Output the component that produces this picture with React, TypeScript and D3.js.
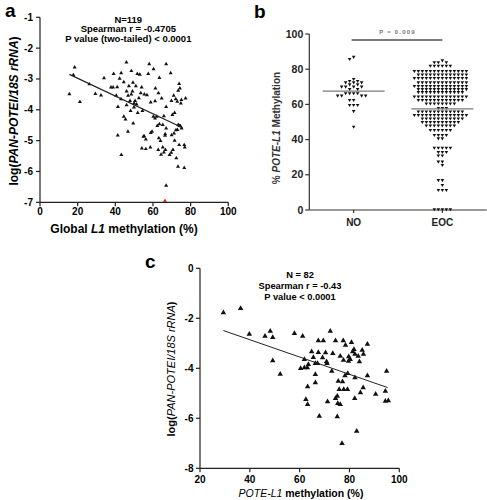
import React from 'react';
import * as d3 from 'd3';

const FONT = "'Liberation Sans', Arial, Helvetica, sans-serif";

// ---------------- Panel a ----------------
const aPoints: [number, number][] = [
  [15.6, -3.49], [18.4, -2.62], [17.7, -2.87], [21.2, -3.74], [26.2, -3.17], [29.4, -3.48],
  [32.4, -3.53], [34.0, -2.97], [45.9, -2.46], [58.0, -2.52], [67.0, -2.52], [60.3, -2.68],
  [39.1, -2.83], [43.1, -2.81], [48.5, -2.74], [51.7, -2.83], [53.0, -2.86], [57.5, -2.83],
  [63.4, -2.96], [69.4, -2.81], [42.3, -2.99], [44.5, -3.10], [49.4, -3.12], [47.2, -3.23],
  [50.9, -3.23], [41.0, -3.26], [37.7, -3.27], [38.8, -3.27], [46.0, -3.40], [49.1, -3.40],
  [54.0, -3.27], [61.3, -3.30], [62.9, -3.46], [55.4, -3.50], [56.8, -3.52], [53.5, -3.46],
  [48.5, -3.50], [73.9, -3.16], [74.3, -3.30], [73.4, -3.38], [71.0, -3.54], [72.1, -3.65],
  [75.1, -3.68], [77.3, -3.63], [69.8, -3.71], [72.9, -3.73], [74.8, -3.79], [50.5, -3.71],
  [50.0, -3.79], [51.3, -3.82], [47.8, -3.71], [46.8, -3.54], [41.4, -3.90], [48.1, -4.03],
  [54.4, -4.03], [67.0, -3.90], [71.5, -4.10], [70.3, -4.16], [60.2, -4.22], [65.8, -4.20],
  [44.5, -4.22], [45.4, -4.31], [49.5, -4.44], [63.4, -4.46], [65.2, -4.49], [73.4, -4.49],
  [74.6, -4.53], [75.2, -4.60], [73.0, -4.65], [67.0, -4.60], [71.2, -4.76], [59.5, -4.71],
  [41.3, -4.83], [46.7, -4.71], [55.3, -4.85], [56.2, -4.96], [63.1, -4.92], [66.5, -4.79],
  [64.0, -5.01], [73.9, -5.14], [76.6, -5.14], [76.9, -5.22], [71.5, -5.00], [54.1, -5.25],
  [56.2, -5.27], [58.6, -5.22], [65.2, -5.22], [66.6, -5.30], [70.6, -5.30], [69.7, -5.39],
  [65.8, -5.38], [68.8, -5.46], [72.4, -5.57], [43.2, -5.46], [73.3, -5.84], [76.6, -5.88],
  [67.0, -6.46], [40.5, -3.54], [43.0, -3.65], [49.9, -3.92], [51.9, -4.10], [46.0, -3.85],
  [52.5, -3.62], [58.8, -3.76], [61.1, -3.72], [64.6, -3.63], [62.0, -4.22], [61.1, -4.28],
  [62.3, -4.52], [58.8, -4.75], [54.9, -4.87], [62.8, -5.30], [64.3, -5.45], [66.4, -4.84],
  [69.9, -4.82], [72.2, -4.66], [74.0, -4.52],
];
const aOutliers: [number, number][] = [[66.4, -7.0]];
const aFitX = [15.6, 75.7];
const aFitY = [-2.85, -4.58];
const aTicksX = [0, 20, 40, 60, 80, 100];
const aTicksY = [-1, -2, -3, -4, -5, -6, -7];
const aStats = ['N=119', 'Spearman r = -0.4705', 'P value (two-tailed) < 0.0001'];

// ---------------- Panel b ----------------
const bCategories = ['NO', 'EOC'];
const bNO = [
  87, 85.8, 74.4, 73.3, 73.3, 72.5, 72.5, 72.5, 71.4, 71.4, 70.1, 70.1, 70.1, 70.1,
  68.7, 68.7, 66.3, 66.3, 66.3, 66.3, 65, 65, 65, 65, 62.5, 62.5, 59.7, 59.7, 59.7, 56.2, 47.3,
];
const bEOC = [
  85,
  84, 84, 84,
  82, 82, 82, 82, 82, 82,
  79, 79, 79, 79, 79, 79, 79, 79, 79, 79, 79, 79, 79, 79,
  77, 77, 77, 77, 77, 77, 77, 77, 77, 77, 77, 77, 77,
  75, 75, 75, 75, 75, 75, 75, 75, 75, 75, 75, 75, 75, 75,
  72.5, 72.5, 72.5, 72.5, 72.5, 72.5, 72.5, 72.5, 72.5, 72.5, 72.5, 72.5, 72.5,
  70.5, 70.5, 70.5, 70.5, 70.5, 70.5, 70.5, 70.5, 70.5, 70.5, 70.5, 70.5, 70.5, 70.5,
  68.7, 68.7, 68.7, 68.7, 68.7, 68.7, 68.7, 68.7, 68.7, 68.7, 68.7, 68.7, 68.7,
  67, 67, 67, 67, 67, 67, 67, 67, 67, 67, 67, 67,
  64.5, 64.5, 64.5, 64.5, 64.5, 64.5, 64.5, 64.5, 64.5, 64.5, 64.5, 64.5, 64.5, 64.5,
  62.5, 62.5, 62.5, 62.5, 62.5, 62.5, 62.5, 62.5, 62.5, 62.5, 62.5, 62.5,
  60.5, 60.5, 60.5, 60.5, 60.5, 60.5, 60.5, 60.5,
  58, 58, 58,
  56, 56, 56, 56, 56, 56, 56, 56, 56, 56, 56, 56,
  54, 54, 54, 54, 54, 54, 54, 54, 54, 54, 54, 54, 54, 54,
  52, 52, 52, 52, 52, 52, 52, 52, 52, 52, 52,
  50, 50, 50, 50, 50, 50, 50, 50, 50, 50,
  48, 48, 48, 48, 48, 48, 48, 48,
  45.5, 45.5, 45.5, 45.5, 45.5, 45.5,
  42.6, 42.6, 42.6, 42.6,
  40.7, 40.7,
  35.4, 35.4, 35.4, 35.4, 35.4,
  33, 33, 33,
  31, 31,
  27.5, 27.5,
  25.6,
  17, 17,
  14.2,
  11.4, 11.4, 11.4,
  0.4, 0.4, 0.4, 0.4, 0.4,
];
const bGroups = [bNO, bEOC];
const bMedians = [67.5, 57.5];
const bTicksY = [0, 20, 40, 60, 80, 100];
const bPText = 'P = 0.009';

// ---------------- Panel c ----------------
const cPoints: [number, number][] = [
  [29.4, -1.77], [36.3, -1.60], [39.8, -2.63], [46.1, -2.71], [48.2, -2.51], [49.2, -2.76],
  [49.2, -3.69], [52.2, -4.23], [57.9, -2.60], [61.2, -2.71], [72.3, -2.51], [61.9, -3.64],
  [60.4, -4.00], [61.9, -3.97], [63.1, -3.97], [63.5, -3.84], [64.8, -3.33], [65.5, -3.56],
  [66.3, -3.80], [67.2, -3.80], [67.5, -2.89], [69.5, -2.89], [67.5, -3.36], [69.2, -3.57],
  [70.4, -3.37], [71.0, -3.80], [70.8, -3.73], [74.4, -2.89], [77.5, -2.89], [78.4, -3.07],
  [80.8, -2.96], [73.3, -3.40], [76.3, -3.51], [77.6, -3.67], [79.6, -3.71], [80.3, -3.64],
  [79.7, -3.53], [81.3, -3.33], [81.8, -3.24], [82.2, -3.43], [83.5, -3.51], [84.0, -3.73],
  [85.1, -3.27], [85.6, -3.43], [87.2, -3.03], [87.2, -4.29], [82.2, -4.37], [79.3, -4.20],
  [78.2, -4.29], [72.9, -4.11], [66.3, -4.24], [66.3, -4.57], [63.2, -4.73], [62.5, -5.24],
  [63.2, -5.44], [71.2, -5.33], [74.4, -5.20], [75.1, -5.11], [75.5, -4.51], [77.2, -4.53],
  [75.9, -4.84], [77.7, -4.84], [79.2, -4.84], [75.3, -5.40], [76.3, -5.44], [75.1, -5.93],
  [67.9, -5.91], [82.1, -5.20], [84.4, -4.97], [85.5, -4.77], [90.5, -5.03], [94.4, -4.91],
  [94.4, -5.31], [95.6, -5.29], [94.9, -4.11], [82.9, -6.51], [77.0, -7.00],
];
const cFitX = [29.4, 95.3];
const cFitY = [-2.49, -4.77];
const cTicksX = [20, 40, 60, 80, 100];
const cTicksY = [0, -2, -4, -6, -8];
const cStats = ['N = 82', 'Spearman r = -0.43', 'P value < 0.0001'];

// --------- helpers ---------
function swarm(values: number[], yPos: (v: number) => number, cx: number, dx: number, dy: number) {
  const items = values.map((v) => ({ v, y: yPos(v) })).sort((a, b) => b.v - a.v);
  const placed: { x: number; y: number }[] = [];
  for (const it of items) {
    for (let k = 0; k < 60; k++) {
      const off = k === 0 ? 0 : (k % 2 === 1 ? -Math.ceil(k / 2) : Math.ceil(k / 2));
      const x = cx + off * dx;
      const ok = placed.every((q) => Math.abs(q.x - x) >= dx - 0.01 || Math.abs(q.y - it.y) >= dy);
      if (ok) {
        placed.push({ x, y: it.y });
        break;
      }
    }
  }
  return placed;
}

function PanelA() {
  const x = d3.scaleLinear().domain([0, 100]).range([40, 228.3]);
  const y = d3.scaleLinear().domain([-7, -1]).range([202.3, 17.3]);
  const tri = d3.symbol().type(d3.symbolTriangle).size(7)() as string;
  const ax = '#222';
  return (
    <g>
      <text x={5} y={17} fontSize={19} fontWeight="bold">a</text>
      <line x1={x(0)} x2={x(0)} y1={y(-1)} y2={y(-7)} stroke={ax} strokeWidth={1.2} />
      <line x1={x(0)} x2={x(100)} y1={y(-7)} y2={y(-7)} stroke={ax} strokeWidth={1.2} />
      {aTicksY.map((t) => (
        <g key={'ay' + t}>
          <line x1={x(0) - 4} x2={x(0)} y1={y(t)} y2={y(t)} stroke={ax} strokeWidth={1.2} />
          <text x={x(0) - 7} y={y(t)} dy="0.35em" textAnchor="end" fontSize={10} fontWeight="bold">{t}</text>
        </g>
      ))}
      {aTicksX.map((t) => (
        <g key={'ax' + t}>
          <line x1={x(t)} x2={x(t)} y1={y(-7)} y2={y(-7) + 4} stroke={ax} strokeWidth={1.2} />
          <text x={x(t)} y={215} textAnchor="middle" fontSize={10} fontWeight="bold">{t}</text>
        </g>
      ))}
      {aPoints.map(([px, py], i) => (
        <path key={'ap' + i} d={tri} transform={`translate(${x(px)},${y(py)})`} fill="#111" />
      ))}
      {aOutliers.map(([px, py], i) => (
        <path key={'ao' + i} d={tri} transform={`translate(${x(px)},${y(py) - 1.5})`} fill="#e0261b" />
      ))}
      <line x1={x(aFitX[0])} x2={x(aFitX[1])} y1={y(aFitY[0])} y2={y(aFitY[1])} stroke="#222" strokeWidth={1.2} />
      {aStats.map((s, i) => (
        <text key={'as' + i} x={128.3} y={22.7 + i * 9.6} textAnchor="middle" fontSize={9.5} fontWeight="bold">{s}</text>
      ))}
      <text x={124} y={233} textAnchor="middle" fontSize={12} fontWeight="bold">
        Global <tspan fontStyle="italic">L1</tspan> methylation (%)
      </text>
      <text transform="translate(18,111) rotate(-90)" textAnchor="middle" fontSize={12} fontWeight="bold">
        log(<tspan fontStyle="italic">PAN-POTEI/18S rRNA</tspan>)
      </text>
    </g>
  );
}

function PanelB() {
  const y = d3.scaleLinear().domain([0, 100]).range([210, 34]);
  const x = d3.scalePoint<string>().domain(bCategories).range([309.3, 486.7]).padding(0.5);
  const tri = d3.symbol().type(d3.symbolTriangle).size(5.5)() as string;
  const ax = '#333';
  const grey = '#7a7a7a';
  const x0 = 309.3;
  return (
    <g>
      <text x={254} y={18} fontSize={19} fontWeight="bold">b</text>
      <line x1={x0} x2={x0} y1={y(100)} y2={y(0)} stroke={ax} strokeWidth={1.2} />
      <line x1={x0} x2={486.7} y1={y(0)} y2={y(0)} stroke={ax} strokeWidth={1.2} />
      {bTicksY.map((t) => (
        <g key={'by' + t}>
          <line x1={x0 - 4} x2={x0} y1={y(t)} y2={y(t)} stroke={ax} strokeWidth={1.2} />
          <text x={x0 - 6} y={y(t)} dy="0.35em" textAnchor="end" fontSize={10.5} fontWeight="bold" fill="#222">{t}</text>
        </g>
      ))}
      {bCategories.map((c) => (
        <g key={'bx' + c}>
          <line x1={x(c)!} x2={x(c)!} y1={y(0)} y2={y(0) + 3} stroke={ax} strokeWidth={1.2} />
          <text x={x(c)!} y={226} textAnchor="middle" fontSize={10} fontWeight="bold" fill="#222">{c}</text>
        </g>
      ))}
      {bGroups.map((vals, gi) =>
        swarm(vals, (v) => y(v), x(bCategories[gi])!, 4, 2.9).map((p, i) => (
          <path key={'bp' + gi + '-' + i} d={tri} transform={`translate(${p.x},${p.y}) rotate(180)`} fill="#111" />
        ))
      )}
      {bMedians.map((m, gi) => (
        <line key={'bm' + gi} x1={x(bCategories[gi])! - 31} x2={x(bCategories[gi])! + 31} y1={y(m)} y2={y(m)} stroke={grey} strokeWidth={1.3} />
      ))}
      <line x1={x('NO')! - 2} x2={x('EOC')!} y1={40} y2={40} stroke={grey} strokeWidth={2} />
      <text x={397.5} y={33.5} textAnchor="middle" fontSize={6} fontWeight="bold" letterSpacing={1.2} fill="#777">{bPText}</text>
      <text transform="translate(280,128) rotate(-90)" textAnchor="middle" fontSize={10} fontWeight="bold" fill="#333">
        % <tspan fontStyle="italic">POTE-L1</tspan> Methylation
      </text>
    </g>
  );
}

function PanelC() {
  const x = d3.scaleLinear().domain([20, 100]).range([200, 399.3]);
  const y = d3.scaleLinear().domain([-8, 0]).range([468.3, 268.3]);
  const tri = d3.symbol().type(d3.symbolTriangle).size(13)() as string;
  const ax = '#222';
  return (
    <g>
      <text x={145} y={268} fontSize={19} fontWeight="bold">c</text>
      <line x1={x(20)} x2={x(20)} y1={y(0)} y2={y(-8)} stroke={ax} strokeWidth={1.2} />
      <line x1={x(20)} x2={x(100)} y1={y(-8)} y2={y(-8)} stroke={ax} strokeWidth={1.2} />
      {cTicksY.map((t) => (
        <g key={'cy' + t}>
          <line x1={x(20) - 4} x2={x(20)} y1={y(t)} y2={y(t)} stroke={ax} strokeWidth={1.2} />
          <text x={x(20) - 6.5} y={y(t)} dy="0.35em" textAnchor="end" fontSize={10} fontWeight="bold">{t}</text>
        </g>
      ))}
      {cTicksX.map((t) => (
        <g key={'cx' + t}>
          <line x1={x(t)} x2={x(t)} y1={y(-8)} y2={y(-8) + 4} stroke={ax} strokeWidth={1.2} />
          <text x={x(t)} y={483} textAnchor="middle" fontSize={10} fontWeight="bold">{t}</text>
        </g>
      ))}
      {cPoints.map(([px, py], i) => (
        <path key={'cp' + i} d={tri} transform={`translate(${x(px)},${y(py)})`} fill="#111" />
      ))}
      <line x1={x(cFitX[0])} x2={x(cFitX[1])} y1={y(cFitY[0])} y2={y(cFitY[1])} stroke="#222" strokeWidth={1} />
      {cStats.map((s, i) => (
        <text key={'cs' + i} x={300} y={278.3 + i * 10.8} textAnchor="middle" fontSize={9.3} fontWeight="bold">{s}</text>
      ))}
      <text x={301} y={497} textAnchor="middle" fontSize={10.5}>
        <tspan fontStyle="italic">POTE-L1</tspan><tspan fontWeight="bold"> methylation (%)</tspan>
      </text>
      <text transform="translate(175,369) rotate(-90)" textAnchor="middle" fontSize={11}>
        <tspan fontWeight="bold">log(</tspan><tspan fontStyle="italic">PAN-POTEI/18S rRNA</tspan><tspan fontWeight="bold">)</tspan>
      </text>
    </g>
  );
}

export default function App() {
  return (
    <svg
      width={487}
      height={500}
      viewBox="0 0 487 500"
      style={{ position: 'absolute', left: 0, top: 0, background: '#fff' }}
      fontFamily={FONT}
    >
      <rect x={0} y={0} width={487} height={500} fill="#fff" />
      <PanelA />
      <PanelB />
      <PanelC />
    </svg>
  );
}
